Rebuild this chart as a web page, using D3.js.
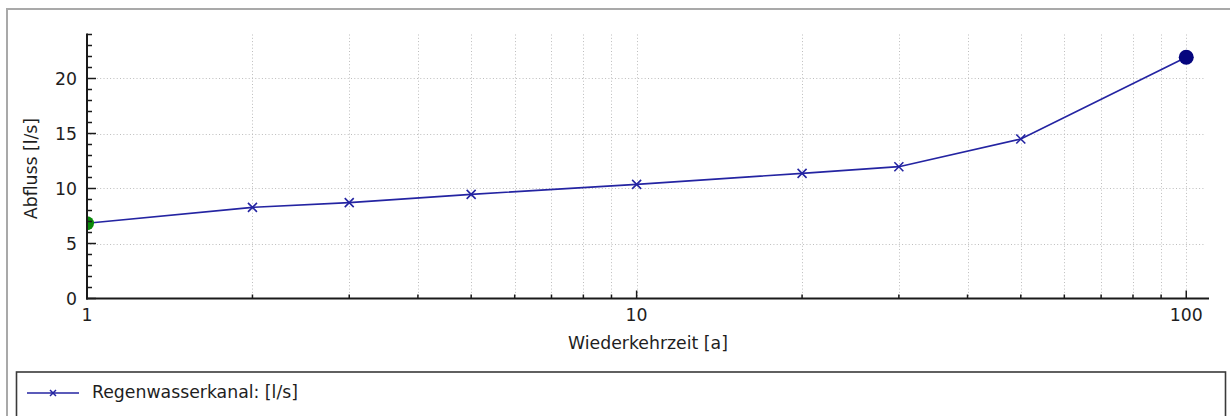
<!DOCTYPE html>
<html>
<head>
<meta charset="utf-8">
<script src="https://cdn.jsdelivr.net/npm/d3@7"></script>
<style>
  html, body { margin: 0; padding: 0; background: #fff; }
  svg { display: block; }
  text { font-family: "DejaVu Sans", Verdana, sans-serif; fill: #1e1e1e; }
</style>
</head>
<body>
<svg id="chart" width="1230" height="416"></svg>
<script>
// Return periods (years) and discharge of the storm-water sewer
const returnPeriods = [1, 2, 3, 5, 10, 20, 30, 50, 100];
const discharge = [6.84, 8.29, 8.71, 9.47, 10.38, 11.38, 11.98, 14.5, 21.93];
const seriesName = "Regenwasserkanal: [l/s]";
const xTitle = "Wiederkehrzeit [a]";
const yTitle = "Abfluss [l/s]";
const xMajorTicks = [1, 10, 100];
const xMinorTicks = [2, 3, 4, 5, 6, 7, 8, 9, 20, 30, 40, 50, 60, 70, 80, 90];
const yMajorTicks = [0, 5, 10, 15, 20];
const yMinorTicks = d3.range(0, 25, 1);

const svg = d3.select("#chart");
const plot = { left: 87, right: 1209, top: 34.5, bottom: 298.5 };

const x = d3.scaleLog().domain([1, 110]).range([plot.left, plot.right]);
const y = d3.scaleLinear().domain([0, 24]).range([plot.bottom, plot.top]);

// outer frame
svg.append("path")
  .attr("d", "M7,416 V9 H1230")
  .attr("fill", "none").attr("stroke", "#a9a9a9").attr("stroke-width", 2);

// grid
const grid = svg.append("g").attr("stroke", "#bdbdbd").attr("stroke-width", 1)
  .attr("stroke-dasharray", "1,2.3");
grid.selectAll("line.v").data(xMajorTicks.concat(xMinorTicks).filter(d => d > 1)).join("line")
  .attr("x1", d => Math.round(x(d)) + 0.5).attr("x2", d => Math.round(x(d)) + 0.5)
  .attr("y1", plot.top).attr("y2", plot.bottom);
grid.selectAll("line.h").data(yMajorTicks.filter(d => d > 0)).join("line")
  .attr("y1", d => Math.round(y(d)) + 0.5).attr("y2", d => Math.round(y(d)) + 0.5)
  .attr("x1", plot.left).attr("x2", plot.right - 4);

// clip region for the series
svg.append("clipPath").attr("id", "plotClip")
  .append("rect").attr("x", plot.left).attr("y", 0)
  .attr("width", plot.right - plot.left + 10).attr("height", plot.bottom);

const series = svg.append("g").attr("clip-path", "url(#plotClip)");
const pts = returnPeriods.map((t, i) => [t, discharge[i]]);
const lineColor = "#2424a2";

series.append("path")
  .datum(pts)
  .attr("fill", "none").attr("stroke", lineColor).attr("stroke-width", 1.7)
  .attr("d", d3.line().x(d => x(d[0])).y(d => y(d[1])));

// cross markers on intermediate points
const cross = "M-4.5,-4.5L4.5,4.5M-4.5,4.5L4.5,-4.5";
series.selectAll("path.mark").data(pts.slice(1, -1)).join("path")
  .attr("transform", d => `translate(${x(d[0])},${y(d[1])})`)
  .attr("d", cross).attr("stroke", lineColor).attr("stroke-width", 1.6).attr("fill", "none");

// first and last points highlighted
const first = pts[0], last = pts[pts.length - 1];
series.append("circle").attr("cx", x(first[0])).attr("cy", y(first[1])).attr("r", 7)
  .attr("fill", "#0a8a0a");
series.append("circle").attr("cx", x(last[0])).attr("cy", y(last[1])).attr("r", 7.5)
  .attr("fill", "#06067e");

// axes
const axisColor = "#1a1a1a";
const axes = svg.append("g").attr("stroke", axisColor);
axes.append("line").attr("x1", plot.left).attr("x2", plot.left)
  .attr("y1", plot.top - 1).attr("y2", plot.bottom + 1).attr("stroke-width", 2);
axes.append("line").attr("x1", plot.left - 1).attr("x2", plot.right)
  .attr("y1", plot.bottom).attr("y2", plot.bottom).attr("stroke-width", 2);

// y ticks (pointing inward)
axes.selectAll("line.ymin").data(yMinorTicks).join("line")
  .attr("x1", plot.left).attr("x2", d => plot.left + (yMajorTicks.includes(d) ? 9 : 5))
  .attr("y1", d => y(d)).attr("y2", d => y(d)).attr("stroke-width", 1.5);
// x ticks (pointing inward)
axes.selectAll("line.xt").data(xMajorTicks.concat(xMinorTicks)).join("line")
  .attr("x1", d => x(d)).attr("x2", d => x(d))
  .attr("y1", plot.bottom).attr("y2", d => plot.bottom - (xMajorTicks.includes(d) ? 8 : 4))
  .attr("stroke-width", 1.5);

const fs = "17.3px";
svg.append("g").selectAll("text").data(yMajorTicks).join("text")
  .attr("x", 77).attr("y", d => y(d)).attr("dy", "0.36em")
  .attr("text-anchor", "end").style("font-size", fs).text(d => d);

svg.append("g").selectAll("text").data(xMajorTicks).join("text")
  .attr("x", d => x(d)).attr("y", 315).attr("dy", "0.36em")
  .attr("text-anchor", "middle").style("font-size", fs).text(d => d);

svg.append("text").attr("x", (plot.left + plot.right) / 2).attr("y", 343).attr("dy", "0.36em")
  .attr("text-anchor", "middle").style("font-size", fs).text(xTitle);

svg.append("text")
  .attr("transform", `translate(31,${(plot.top + plot.bottom) / 2 + 2}) rotate(-90)`)
  .attr("dy", "0.36em").attr("text-anchor", "middle").style("font-size", fs).text(yTitle);

// legend
const legend = svg.append("g");
legend.append("rect").attr("x", 16.5).attr("y", 372).attr("width", 1209).attr("height", 70)
  .attr("fill", "#fff").attr("stroke", "#3a3a3a").attr("stroke-width", 1.6);
legend.append("line").attr("x1", 27).attr("x2", 79).attr("y1", 393).attr("y2", 393)
  .attr("stroke", lineColor).attr("stroke-width", 1.7);
legend.append("path").attr("transform", "translate(53,393)").attr("d", "M-3,-3L3,3M-3,3L3,-3")
  .attr("stroke", lineColor).attr("stroke-width", 1.5);
legend.append("text").attr("x", 92).attr("y", 392).attr("dy", "0.36em")
  .style("font-size", fs).text(seriesName);
</script>
</body>
</html>
